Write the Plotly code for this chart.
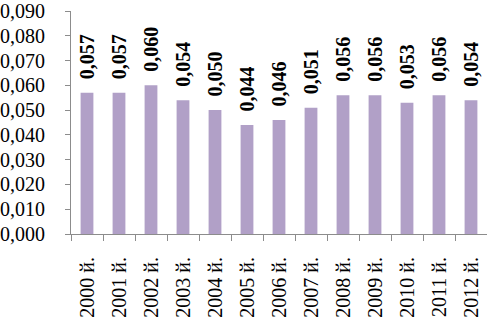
import plotly.graph_objects as go

categories = ["2000 й.", "2001 й.", "2002 й.", "2003 й.", "2004 й.", "2005 й.", "2006 й.",
              "2007 й.", "2008 й.", "2009 й.", "2010 й.", "2011 й.", "2012 й."]
values = [0.057, 0.057, 0.060, 0.054, 0.050, 0.044, 0.046, 0.051, 0.056, 0.056, 0.053, 0.056, 0.054]
y_ticks = [0.0, 0.01, 0.02, 0.03, 0.04, 0.05, 0.06, 0.07, 0.08, 0.09]
y_tick_labels = ["0,000", "0,010", "0,020", "0,030", "0,040", "0,050", "0,060", "0,070", "0,080", "0,090"]
value_labels = [f"{v:.3f}".replace(".", ",") for v in values]

FONT = "Liberation Serif, Times New Roman, serif"
AXIS_COLOR = "#8c8c8c"
FS = 20

fig = go.Figure()
fig.add_trace(go.Bar(x=categories, y=values, marker=dict(color="#b1a0c7", line=dict(width=0)),
                     hoverinfo="skip"))

for c, v, t in zip(categories, values, value_labels):
    fig.add_annotation(x=c, y=v, text=f"<b>{t}</b>", textangle=-90, showarrow=False,
                       xanchor="center", yanchor="bottom", yshift=11,
                       font=dict(family=FONT, size=FS, color="black"))

fig.update_layout(
    width=487, height=324,
    margin=dict(l=63, r=0, t=7, b=90),
    paper_bgcolor="white", plot_bgcolor="white",
    bargap=0.6, showlegend=False,
    font=dict(family=FONT, size=FS, color="black"),
)
fig.update_xaxes(
    type="category", tickangle=-90, showline=True, linecolor=AXIS_COLOR, linewidth=1,
    ticks="outside", tickson="boundaries", ticklen=6, tickcolor=AXIS_COLOR,
    showgrid=False, ticklabelstandoff=14,
    tickfont=dict(family=FONT, size=FS, color="black"),
)
fig.update_yaxes(
    range=[0, 0.09001], tickvals=y_ticks, ticktext=y_tick_labels,
    showline=True, linecolor=AXIS_COLOR, linewidth=1,
    ticks="outside", ticklen=5, tickcolor=AXIS_COLOR, showgrid=False, zeroline=False,
    ticklabelstandoff=16, ticklabeloverflow="allow",
    tickfont=dict(family=FONT, size=FS, color="black"),
)

fig.write_html("out.html", config={"displayModeBar": False},
               post_script="document.body.style.margin='0';")
